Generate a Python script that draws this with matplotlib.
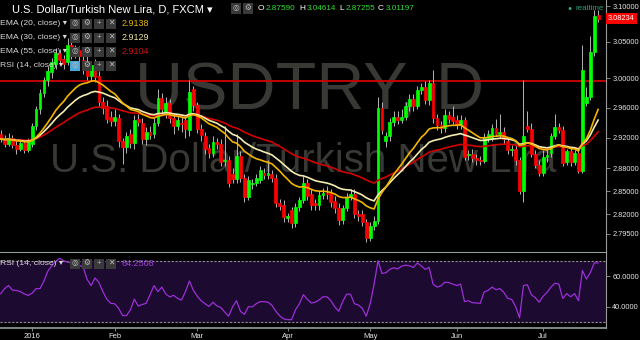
import matplotlib
matplotlib.use("Agg")
import matplotlib.pyplot as plt
from matplotlib.patches import Rectangle
from matplotlib.ticker import FixedLocator, FixedFormatter, NullLocator
import numpy as np
import pandas as pd

plt.rcParams['font.family'] = ['Liberation Sans', 'DejaVu Sans']

# daily bars, USDTRY (FXCM), 22 Dec 2015 .. 21 Jul 2016
dates = pd.bdate_range('2015-12-22', periods=153)

opens = [2.925, 2.918, 2.912, 2.920, 2.910, 2.905, 2.913, 2.904, 2.912, 2.935,
         2.958, 2.980, 2.997, 3.008, 3.020, 3.035, 3.026, 3.022, 3.045, 3.033,
         3.038, 3.025, 3.022, 3.003, 3.018, 3.003, 2.968, 2.962, 2.948, 2.942,
         2.946, 2.915, 2.908, 2.925, 2.913, 2.945, 2.940, 2.918, 2.928, 2.925,
         2.940, 2.973, 2.953, 2.966, 2.946, 2.935, 2.940, 2.943, 2.930, 2.985,
         2.963, 2.932, 2.922, 2.906, 2.900, 2.914, 2.912, 2.889, 2.890, 2.872,
         2.866, 2.896, 2.867, 2.842, 2.859, 2.861, 2.864, 2.874, 2.871, 2.872,
         2.867, 2.835, 2.832, 2.815, 2.826, 2.809, 2.829, 2.838, 2.860, 2.846,
         2.834, 2.832, 2.845, 2.848, 2.847, 2.837, 2.828, 2.813, 2.828, 2.842,
         2.846, 2.820, 2.820, 2.810, 2.790, 2.805, 2.812, 2.960, 2.915, 2.922,
         2.941, 2.948, 2.944, 2.948, 2.962, 2.972, 2.962, 2.984, 2.988, 2.970,
         2.993, 2.946, 2.937, 2.933, 2.950, 2.948, 2.944, 2.937, 2.944, 2.897,
         2.899, 2.893, 2.891, 2.889, 2.918, 2.918, 2.933, 2.925, 2.928, 2.915,
         2.903, 2.905, 2.890, 2.850, 2.936, 2.932, 2.898, 2.884, 2.874, 2.894,
         2.900, 2.922, 2.934, 2.930, 2.888, 2.902, 2.888, 2.900, 2.876, 2.966,
         2.974, 3.036, 3.087]

highs = [2.930, 2.923, 2.926, 2.924, 2.915, 2.918, 2.916, 2.919, 2.940, 2.962,
         2.985, 3.002, 3.016, 3.028, 3.042, 3.040, 3.032, 3.055, 3.050, 3.046,
         3.044, 3.032, 3.036, 3.024, 3.026, 3.010, 2.975, 2.970, 2.955, 2.958,
         2.952, 2.920, 2.928, 2.932, 2.950, 2.952, 2.946, 2.934, 2.936, 2.946,
         2.985, 2.980, 2.975, 2.972, 2.952, 2.950, 2.948, 2.950, 2.998, 2.990,
         2.968, 2.938, 2.928, 2.912, 2.922, 2.920, 2.918, 2.935, 2.896, 2.880,
         2.925, 2.902, 2.872, 2.870, 2.866, 2.872, 2.882, 2.880, 2.890, 2.878,
         2.872, 2.840, 2.838, 2.822, 2.830, 2.834, 2.842, 2.869, 2.866, 2.852,
         2.840, 2.850, 2.854, 2.856, 2.852, 2.843, 2.834, 2.832, 2.848, 2.852,
         2.852, 2.826, 2.825, 2.814, 2.810, 2.818, 2.975, 2.968, 2.928, 2.946,
         2.956, 2.955, 2.958, 2.968, 2.978, 2.978, 2.990, 2.994, 2.996, 2.998,
         3.011, 2.952, 2.942, 2.958, 2.956, 2.962, 2.950, 2.950, 2.948, 2.904,
         2.905, 2.898, 2.896, 2.926, 2.930, 2.938, 2.945, 2.952, 2.934, 2.920,
         2.910, 2.910, 2.895, 2.998, 2.955, 2.940, 2.904, 2.890, 2.904, 2.905,
         2.926, 2.952, 2.940, 2.936, 2.905, 2.908, 2.904, 2.905, 3.046, 2.988,
         3.058, 3.094, 3.094]

lows = [2.914, 2.908, 2.909, 2.906, 2.899, 2.902, 2.900, 2.901, 2.908, 2.930,
        2.952, 2.974, 2.990, 3.000, 3.012, 3.018, 3.012, 3.018, 3.026, 3.028,
        3.024, 3.006, 2.998, 2.996, 2.995, 2.962, 2.952, 2.940, 2.936, 2.935,
        2.908, 2.885, 2.900, 2.906, 2.905, 2.936, 2.912, 2.910, 2.918, 2.920,
        2.936, 2.950, 2.946, 2.940, 2.925, 2.930, 2.928, 2.920, 2.922, 2.955,
        2.926, 2.915, 2.898, 2.893, 2.895, 2.905, 2.882, 2.883, 2.855, 2.860,
        2.860, 2.862, 2.836, 2.838, 2.852, 2.856, 2.860, 2.866, 2.866, 2.862,
        2.830, 2.826, 2.810, 2.810, 2.803, 2.804, 2.824, 2.834, 2.838, 2.826,
        2.826, 2.826, 2.840, 2.840, 2.830, 2.822, 2.806, 2.808, 2.824, 2.838,
        2.815, 2.812, 2.805, 2.785, 2.786, 2.800, 2.808, 2.925, 2.908, 2.916,
        2.936, 2.938, 2.940, 2.944, 2.956, 2.955, 2.958, 2.978, 2.965, 2.964,
        2.940, 2.930, 2.926, 2.928, 2.940, 2.938, 2.932, 2.932, 2.890, 2.890,
        2.888, 2.884, 2.884, 2.886, 2.914, 2.915, 2.922, 2.920, 2.912, 2.898,
        2.896, 2.884, 2.846, 2.836, 2.928, 2.895, 2.880, 2.870, 2.870, 2.888,
        2.895, 2.918, 2.926, 2.882, 2.884, 2.882, 2.884, 2.873, 2.873, 2.962,
        2.970, 3.030, 3.078]

closes = [2.918, 2.912, 2.920, 2.910, 2.905, 2.913, 2.904, 2.915, 2.935, 2.958,
          2.980, 2.997, 3.010, 3.022, 3.035, 3.025, 3.020, 3.045, 3.033, 3.038,
          3.030, 3.012, 3.003, 3.018, 3.002, 2.968, 2.960, 2.945, 2.942, 2.948,
          2.915, 2.908, 2.922, 2.913, 2.944, 2.941, 2.918, 2.928, 2.924, 2.940,
          2.973, 2.958, 2.966, 2.946, 2.935, 2.943, 2.938, 2.932, 2.981, 2.963,
          2.932, 2.923, 2.905, 2.900, 2.914, 2.911, 2.888, 2.891, 2.861, 2.866,
          2.896, 2.867, 2.842, 2.864, 2.861, 2.867, 2.877, 2.871, 2.874, 2.867,
          2.835, 2.831, 2.816, 2.818, 2.809, 2.829, 2.838, 2.860, 2.843, 2.832,
          2.832, 2.845, 2.848, 2.846, 2.836, 2.828, 2.813, 2.828, 2.842, 2.846,
          2.820, 2.818, 2.810, 2.790, 2.805, 2.812, 2.960, 2.930, 2.922, 2.941,
          2.948, 2.944, 2.948, 2.962, 2.972, 2.962, 2.984, 2.988, 2.970, 2.993,
          2.946, 2.937, 2.933, 2.950, 2.945, 2.942, 2.937, 2.944, 2.895, 2.899,
          2.893, 2.891, 2.889, 2.920, 2.925, 2.933, 2.925, 2.928, 2.918, 2.904,
          2.905, 2.890, 2.850, 2.922, 2.932, 2.898, 2.884, 2.874, 2.894, 2.897,
          2.922, 2.934, 2.930, 2.886, 2.902, 2.888, 2.900, 2.876, 3.011, 2.974,
          3.036, 3.086, 3.082]

rsi = [48.7, 52, 54, 51, 50.8, 50, 48.5, 47.5, 49, 52,
       52, 57, 63.6, 67, 70, 72, 70.4, 69.5, 69, 68,
       67.5, 66, 58, 54, 59, 56, 50, 45, 42.3, 42,
       39, 34.2, 34.2, 38, 45, 40.5, 41.5, 42.3, 48, 54,
       50, 53, 48.5, 46.5, 47.6, 45.5, 44.4, 50, 57, 51,
       47, 44, 42, 40.2, 43, 40.6, 39.5, 36.5, 33.8, 40,
       44, 37, 35, 40, 40, 42, 43.4, 43.4, 43, 41,
       37, 34, 32, 31.5, 31.5, 38, 42, 48, 45, 42.5,
       43, 44.5, 46.6, 46.6, 44, 40, 37, 43.4, 48.3, 48.3,
       42, 41.2, 39, 33.8, 42, 55, 70.4, 62, 62.5, 64.7,
       65.7, 65, 66.8, 67.5, 67, 66, 68.9, 67, 64.7, 66,
       55, 53, 53.8, 56.2, 56, 55, 54, 55, 43.4, 44,
       42.7, 42.5, 42.3, 49.8, 50.8, 53, 51.3, 52, 49.5, 45.5,
       44.9, 40.2, 32.7, 54, 54.5, 48, 46, 43, 47, 49.5,
       53, 55.5, 55, 45.5, 48.7, 46.6, 48.7, 44, 64, 58.3,
       62.5, 68.9, 69]

price_ticks = [3.10, 3.05, 3.00, 2.96, 2.92, 2.88, 2.85, 2.82, 2.795]
rsi_ticks = [40, 60]
resistance = 2.996
last_price = 3.08234
ema_specs = [(55, '#d40000'), (30, '#f4ecb0'), (20, '#f2b600')]


def fx(px):
    return px / 640.0


def fy(py):
    return 1 - py / 340.0


fig = plt.figure(figsize=(6.4, 3.4), dpi=100, facecolor='black')
ax = fig.add_axes([0, fy(252.5), 606 / 640, 252.5 / 340])
ax2 = fig.add_axes([0, fy(328), 606 / 640, 75 / 340])

x = np.arange(len(closes))
o = np.array(opens)
h = np.array(highs)
l = np.array(lows)
c = np.array(closes)
col = np.where(c >= o, '#00ff00', '#ff0000')

# ---- price panel
ax.set_facecolor('black')
ax.axhline(resistance, color='#d00000', lw=1.3, zorder=1.5)
ax.vlines(x, l, h, color='#b4b4b4', lw=0.7, zorder=2)
ax.bar(x, np.abs(c - o), bottom=np.minimum(o, c), width=0.72, color=col,
       edgecolor=col, linewidth=0.5, zorder=3)
s = pd.Series(closes)
for span, ecol in ema_specs:
    ax.plot(x, s.ewm(span=span, adjust=False).mean(), color=ecol, lw=1.2, zorder=4)

ax.set_xlim(-0.18, 154.0)
ax.set_yscale('log')
ax.set_ylim(2.7715, 3.1085)
ax.yaxis.set_major_locator(FixedLocator(price_ticks))
ax.yaxis.set_major_formatter(FixedFormatter(['%.5f' % t for t in price_ticks]))
ax.yaxis.set_minor_locator(NullLocator())
ax.yaxis.tick_right()
ax.tick_params(axis='y', colors='#9a9a9a', labelcolor='#e6e6e6', labelsize=5.3,
               length=3, width=0.6, pad=1.5)
ax.tick_params(axis='x', bottom=False, labelbottom=False)
for sp in ['top', 'left']:
    ax.spines[sp].set_visible(False)
ax.spines['right'].set_color('#9a9a9a')
ax.spines['right'].set_linewidth(0.8)
ax.spines['bottom'].set_color('#8fa0a0')
ax.spines['bottom'].set_linewidth(1.5)

ax.text(1.003, last_price, '3.08234', transform=ax.get_yaxis_transform(),
        color='white', fontsize=5.3, va='center', ha='left', zorder=6,
        bbox=dict(boxstyle='square,pad=0.3', fc='#ff0000', ec='none'))

# watermark
ax.text(fx(310), fy(110), 'USDTRY, D', transform=fig.transFigure, fontsize=48,
        color='#383834', ha='center', va='baseline', zorder=0.5)
ax.text(fx(303), fy(172), 'U.S. Dollar/Turkish New Lira', transform=fig.transFigure,
        fontsize=29, color='#383834', ha='center', va='baseline', zorder=0.5)

# ---- RSI panel
ax2.set_facecolor('black')
ax2.axhspan(30, 70, color='#1c0a30', zorder=0)
for lvl in (70, 30):
    ax2.axhline(lvl, color='#8c8c8c', lw=0.8, ls=(0, (2, 1.5)), zorder=1)
ax2.plot(x, rsi, color='#9c2fd8', lw=0.9, zorder=3)
ax2.set_xlim(-0.18, 154.0)
ax2.set_ylim(26, 75.5)
ax2.yaxis.tick_right()
ax2.set_yticks(rsi_ticks)
ax2.set_yticklabels(['%.4f' % t for t in rsi_ticks])

month_pos = [i for i in range(1, len(dates)) if dates[i].month != dates[i - 1].month]
month_lab = ['2016' if dates[i].month == 1 else dates[i].strftime('%b') for i in month_pos]
ax2.set_xticks(month_pos)
ax2.set_xticklabels(month_lab)
ax2.tick_params(axis='y', colors='#9a9a9a', labelcolor='#e6e6e6', labelsize=5.3,
                length=3, width=0.6, pad=1.5)
ax2.tick_params(axis='x', colors='#9a9a9a', labelcolor='#e6e6e6', labelsize=5.5,
                length=2, width=0.6, pad=1.5)
for sp in ['top', 'left']:
    ax2.spines[sp].set_visible(False)
ax2.spines['right'].set_color('#9a9a9a')
ax2.spines['right'].set_linewidth(0.8)
ax2.spines['bottom'].set_color('#8fa0a0')
ax2.spines['bottom'].set_linewidth(1.2)

# ---- header and legend
fig.text(fx(12), fy(9.5), 'U.S. Dollar/Turkish New Lira, D, FXCM \u25BE', color='white',
         fontsize=8, va='center', ha='left')


def icon(px, py, glyph, face='#3a3a3a'):
    fig.add_artist(Rectangle((fx(px), fy(py + 5)), 10 / 640, 10 / 340,
                             transform=fig.transFigure, fc=face, ec='none'))
    fig.text(fx(px + 5), fy(py), glyph, color='#bdbdbd', fontsize=5.5,
             ha='center', va='center')


icon(231, 8.5, '\u25CE')
icon(243, 8.5, '\u2699')

ohlc = [('O', 258, '2.87590', 266), ('H', 299, '3.04614', 306.5),
        ('L', 339, '2.87255', 346), ('C', 378, '3.01197', 386)]
for letter, lx, val, vx in ohlc:
    fig.text(fx(lx), fy(9), letter, color='white', fontsize=6, va='center')
    fig.text(fx(vx), fy(9), val, color='#2fe02f', fontsize=5.9, va='center')

fig.text(fx(570), fy(8.5), '\u25CF', color='#2fae84', fontsize=5, va='center', ha='center')
fig.text(fx(575), fy(8.5), 'realtime', color='#2f9e74', fontsize=5.8, va='center')


def legend_row(py, label, value, vcolor, first='#3a3a3a'):
    fig.text(fx(0.5), fy(py), label + ' \u25BE', color='#d8d8d8', fontsize=6.1, va='center')
    for k, g in enumerate(['\u25CE', '\u2699', '+', '\u2715']):
        icon(70 + k * 12, py, g, face=first if k == 0 else '#3a3a3a')
    fig.text(fx(122), fy(py), value, fontsize=6.5, va='center', color=vcolor)


legend_row(23.5, 'EMA (20, close)', '2.9138', '#e6b800')
legend_row(37.5, 'EMA (30, close)', '2.9129', '#ece3a0')
legend_row(51.5, 'EMA (55, close)', '2.9104', '#cc1010')
legend_row(65.5, 'RSI (14, close)', '', 'white', first='#4aa8d8')
legend_row(263.5, 'RSI (14, close)', '64.2508', '#a040d8')

fig.savefig('out.png', dpi=100, facecolor='black')
